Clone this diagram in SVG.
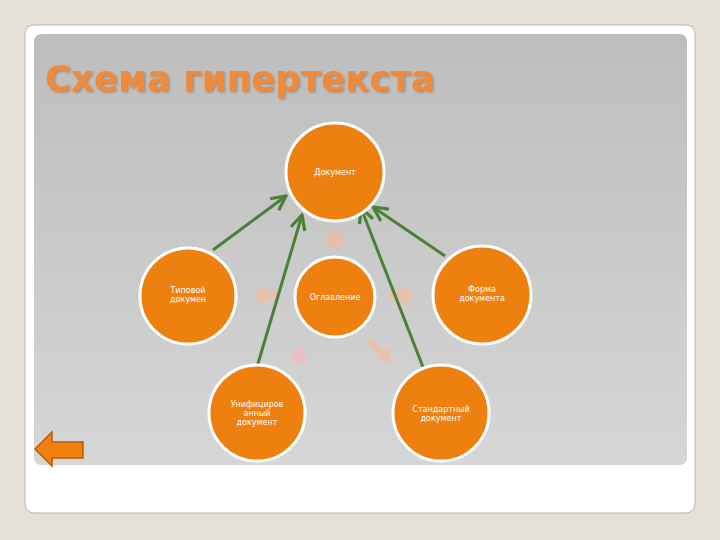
<svg xmlns="http://www.w3.org/2000/svg" width="720" height="540" viewBox="0 0 720 540">
<defs>
<linearGradient id="panel" x1="0" y1="0" x2="0" y2="1">
<stop offset="0" stop-color="#bdbdbd"/>
<stop offset="1" stop-color="#d6d6d6"/>
</linearGradient>
<filter id="tshadow" x="-5%" y="-20%" width="110%" height="140%">
<feDropShadow dx="1.5" dy="1.5" stdDeviation="0.8" flood-color="#8a6a50" flood-opacity="0.6"/>
</filter>
<marker id="ah" viewBox="0 0 10 10" refX="9" refY="5" markerWidth="6" markerHeight="6" orient="auto" markerUnits="strokeWidth">
<path d="M1,1 L9,5 L1,9" fill="none" stroke="#4a8038" stroke-width="1.8"/>
</marker>
<style>
.node{fill:#ee8010;stroke:#ffffff;stroke-width:3}
.lbl{font-family:"DejaVu Sans","Liberation Sans",sans-serif;font-size:8px;fill:#ffffff;text-anchor:middle}
.conn{stroke:#4a8038;stroke-width:3;fill:none;marker-end:url(#ah)}
.faint{fill:#f9b79a;opacity:0.6}
</style>
</defs>
<rect width="720" height="540" fill="#e5e0d8"/>
<rect x="25" y="25" width="670" height="488" rx="9" fill="#ffffff" stroke="#b8b4ae" stroke-width="1"/>
<rect x="34" y="34" width="653" height="431" rx="7" fill="url(#panel)"/>
<text x="45" y="91" font-family="DejaVu Sans, Verdana, sans-serif" font-weight="bold" font-size="36" fill="#f08a3a" filter="url(#tshadow)" textLength="390" lengthAdjust="spacingAndGlyphs">Схема гипертекста</text>
<g id="faint-arrows">
<path class="faint" d="M328,232 L342,232 L342,240 L347,240 L335,250 L323,240 L328,240 Z"/>
<path class="faint" d="M277,289 L265,289 L265,284 L252,295 L265,306 L265,301 L277,301 Z"/>
<path class="faint" d="M390,289 L402,289 L402,284 L415,295 L402,306 L402,301 L390,301 Z"/>
<path class="faint" d="M297,344 L307,350 L304,355 L310,362 L294,364 L290,348 L295,352 Z" style="fill:#f5b8c0"/>
<path class="faint" d="M370,338 L384,350 L388,346 L392,362 L376,360 L380,356 L366,344 Z"/>
</g>
<g id="connectors">
<line class="conn" x1="213" y1="250" x2="286" y2="196"/>
<line class="conn" x1="257" y1="367" x2="302" y2="215"/>
<line class="conn" x1="423" y1="367" x2="361" y2="208"/>
<line class="conn" x1="445" y1="256" x2="373" y2="207"/>
</g>
<g id="n-document">
<circle class="node" cx="335" cy="172" r="49"/>
<text class="lbl" x="335" y="175">Документ</text>
</g>
<g id="n-typical">
<circle class="node" cx="188" cy="296" r="48"/>
<text class="lbl" x="188" y="293">Типовой</text>
<text class="lbl" x="188" y="302">докумен</text>
</g>
<g id="n-toc">
<circle class="node" cx="335" cy="297" r="40"/>
<text class="lbl" x="335" y="300">Оглавление</text>
</g>
<g id="n-form">
<circle class="node" cx="482" cy="295" r="49"/>
<text class="lbl" x="482" y="292">Форма</text>
<text class="lbl" x="482" y="301">документа</text>
</g>
<g id="n-unified">
<circle class="node" cx="257" cy="413" r="48"/>
<text class="lbl" x="257" y="407">Унифициров</text>
<text class="lbl" x="257" y="416">анный</text>
<text class="lbl" x="257" y="425">документ</text>
</g>
<g id="n-standard">
<circle class="node" cx="441" cy="413" r="48"/>
<text class="lbl" x="441" y="412">Стандартный</text>
<text class="lbl" x="441" y="421">документ</text>
</g>
<g id="back-button">
<path d="M35,449 L52,432 L52,442 L83,442 L83,458 L52,458 L52,466 Z" fill="#f08010" stroke="#b85a08" stroke-width="1.5"/>
</g>
</svg>
